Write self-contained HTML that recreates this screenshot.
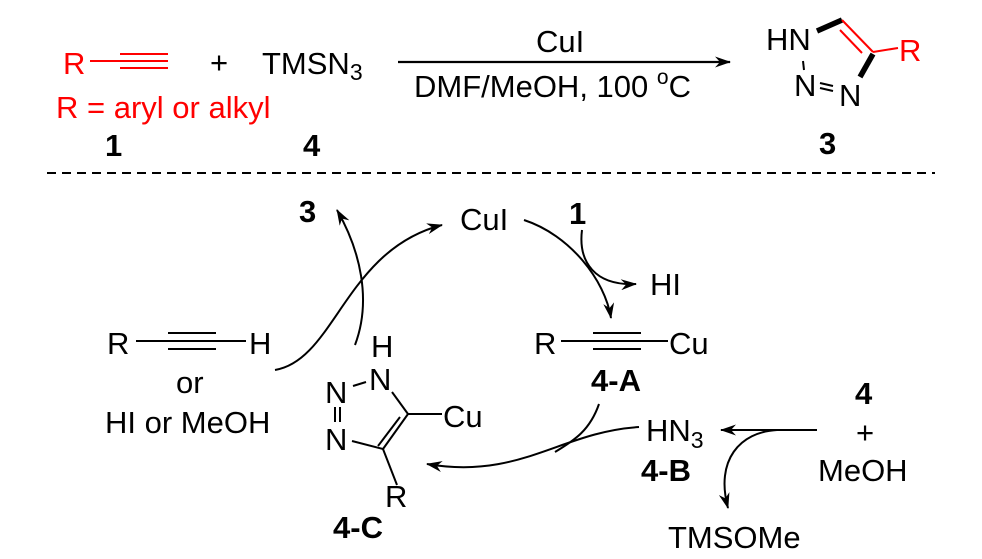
<!DOCTYPE html>
<html><head><meta charset="utf-8"><style>
html,body{margin:0;padding:0;background:#fff;}
svg{display:block;}
text{font-family:"Liberation Sans",Arial,sans-serif;}
.b{font-weight:bold;}
</style></head><body>
<svg width="982" height="559" viewBox="0 0 982 559" xmlns="http://www.w3.org/2000/svg">
<defs>
<marker id="ah" markerWidth="16" markerHeight="11" refX="15" refY="5.5" orient="auto" markerUnits="userSpaceOnUse">
<path d="M0,0 L16,5.5 L0,11 L5,5.5 Z" fill="#000"/></marker>
</defs>
<g font-size="31">
<!-- top reaction -->
<text x="63" y="74" fill="#f00">R</text>
<line x1="90" y1="61" x2="120" y2="61" stroke="#f00" stroke-width="2"/>
<line x1="120" y1="54" x2="168" y2="54" stroke="#f00" stroke-width="2"/>
<line x1="120" y1="61" x2="168" y2="61" stroke="#f00" stroke-width="2"/>
<line x1="120" y1="68" x2="168" y2="68" stroke="#f00" stroke-width="2"/>
<text x="210" y="73">+</text>
<text x="262" y="74">TMSN<tspan font-size="23" dy="6">3</tspan></text>
<text x="56" y="118" fill="#f00">R = aryl or alkyl</text>
<text x="105" y="156" class="b">1</text>
<text x="303" y="156" class="b">4</text>
<line x1="398" y1="62" x2="730" y2="62" stroke="#000" stroke-width="2.2" marker-end="url(#ah)"/>
<text x="536" y="52">CuI</text>
<text x="414" y="97">DMF/MeOH, 100 <tspan font-size="21" dy="-13">o</tspan><tspan dy="13">C</tspan></text>
<!-- triazole 3 -->
<text x="766" y="50">HN</text>
<line x1="817" y1="31" x2="842" y2="20" stroke="#000" stroke-width="5.5"/>
<line x1="842" y1="20" x2="873" y2="52" stroke="#f00" stroke-width="2"/>
<line x1="840" y1="30" x2="862" y2="53" stroke="#f00" stroke-width="2"/>
<line x1="873" y1="52" x2="898" y2="48" stroke="#f00" stroke-width="2"/>
<text x="899" y="61" fill="#f00">R</text>
<line x1="873" y1="54" x2="860" y2="77" stroke="#000" stroke-width="5.5"/>
<line x1="803" y1="61" x2="804" y2="70" stroke="#000" stroke-width="2"/>
<text x="794" y="96">N</text>
<text x="839" y="106">N</text>
<line x1="820" y1="83" x2="833" y2="86" stroke="#000" stroke-width="2"/>
<line x1="820" y1="88" x2="833" y2="91" stroke="#000" stroke-width="2"/>
<text x="819" y="154" class="b">3</text>
<line x1="47" y1="173" x2="935" y2="173" stroke="#000" stroke-width="2" stroke-dasharray="9,6"/>

<!-- cycle -->
<text x="299" y="222" class="b">3</text>
<text x="460" y="230">CuI</text>
<text x="569" y="224" class="b">1</text>
<text x="650" y="295">HI</text>
<path d="M355,345 C372,300 360,250 337,210" fill="none" stroke="#000" stroke-width="2" marker-end="url(#ah)"/>
<path d="M275,370 C335,360 345,250 442,225" fill="none" stroke="#000" stroke-width="2" marker-end="url(#ah)"/>
<path d="M524,220 C570,235 605,280 611,318" fill="none" stroke="#000" stroke-width="2" marker-end="url(#ah)"/>
<path d="M582,230 C578,262 595,286 636,284" fill="none" stroke="#000" stroke-width="2" marker-end="url(#ah)"/>

<!-- left alkyne -->
<text x="107" y="354">R</text>
<line x1="136" y1="341" x2="168" y2="341" stroke="#000" stroke-width="2"/>
<line x1="168" y1="333" x2="216" y2="333" stroke="#000" stroke-width="2"/>
<line x1="168" y1="341" x2="246" y2="341" stroke="#000" stroke-width="2"/>
<line x1="168" y1="349" x2="216" y2="349" stroke="#000" stroke-width="2"/>
<text x="249" y="354">H</text>
<text x="176" y="393">or</text>
<text x="105" y="433">HI or MeOH</text>

<!-- 4-A -->
<text x="534" y="354">R</text>
<line x1="561" y1="341" x2="593" y2="341" stroke="#000" stroke-width="2"/>
<line x1="593" y1="333" x2="641" y2="333" stroke="#000" stroke-width="2"/>
<line x1="593" y1="341" x2="668" y2="341" stroke="#000" stroke-width="2"/>
<line x1="593" y1="349" x2="641" y2="349" stroke="#000" stroke-width="2"/>
<text x="669" y="354">Cu</text>
<text x="591" y="391" class="b">4-A</text>

<!-- 4-C triazole -->
<text x="371" y="357">H</text>
<text x="369" y="390">N</text>
<text x="325" y="403">N</text>
<text x="325" y="450">N</text>
<line x1="353" y1="386" x2="366" y2="382" stroke="#000" stroke-width="2"/>
<line x1="335" y1="407" x2="335" y2="422" stroke="#000" stroke-width="2"/>
<line x1="340" y1="407" x2="340" y2="422" stroke="#000" stroke-width="2"/>
<line x1="392" y1="392" x2="408" y2="414" stroke="#000" stroke-width="2"/>
<line x1="408" y1="414" x2="442" y2="414" stroke="#000" stroke-width="2"/>
<text x="443" y="427">Cu</text>
<line x1="408" y1="414" x2="383" y2="449" stroke="#000" stroke-width="2"/>
<line x1="400" y1="417" x2="378" y2="446" stroke="#000" stroke-width="2"/>
<line x1="352" y1="441" x2="383" y2="449" stroke="#000" stroke-width="2"/>
<line x1="383" y1="449" x2="397" y2="485" stroke="#000" stroke-width="2"/>
<text x="385" y="507">R</text>
<text x="333" y="538" class="b">4-C</text>

<!-- arrows to 4-C -->
<path d="M599,404 C590,430 575,440 555,452" fill="none" stroke="#000" stroke-width="2"/>
<path d="M639,427 C560,432 520,480 427,464" fill="none" stroke="#000" stroke-width="2" marker-end="url(#ah)"/>

<!-- right -->
<text x="646" y="441">HN<tspan font-size="23" dy="7">3</tspan></text>
<text x="641" y="481" class="b">4-B</text>
<line x1="817" y1="430" x2="721" y2="430" stroke="#000" stroke-width="2" marker-end="url(#ah)"/>
<path d="M777,430 C740,432 715,460 728,508" fill="none" stroke="#000" stroke-width="2" marker-end="url(#ah)"/>
<text x="855" y="404" class="b">4</text>
<text x="856" y="443">+</text>
<text x="818" y="481">MeOH</text>
<text x="668" y="548">TMSOMe</text>
</g>
</svg>
</body></html>
